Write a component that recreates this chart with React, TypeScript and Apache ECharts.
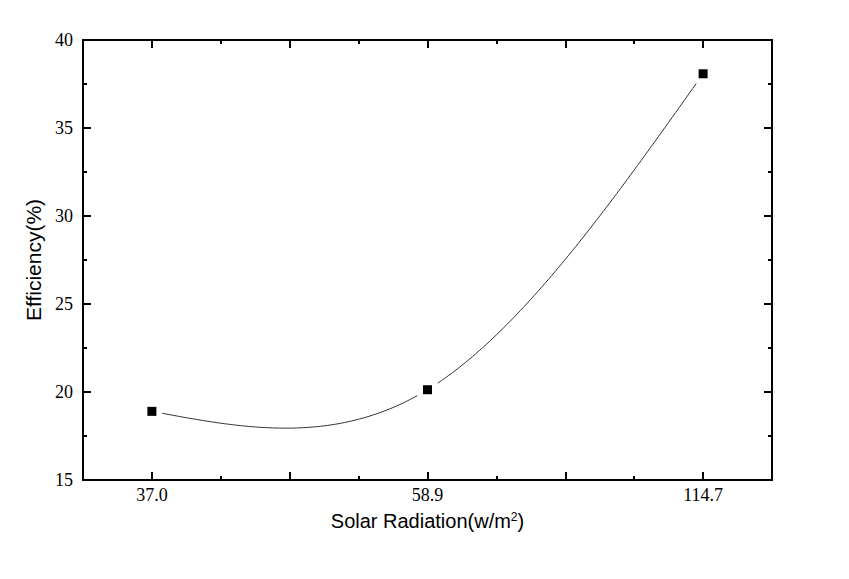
import React, { useEffect, useRef } from "react";
import * as echarts from "echarts";

const xLabels = ["37.0", "58.9", "114.7"];
const efficiency = [18.9, 20.13, 38.08];
const yTicks = { min: 15, max: 40, step: 5 };
const xMajorTicks = [0, 0.5, 1, 1.5, 2];
const xMinorTicks = [0.25, 0.75, 1.25, 1.75];
const xLabelPositions = [0, 1, 2];

// natural cubic spline second derivatives (x = category index)
function splineM(xs: number[], ys: number[]): number[] {
  const n = xs.length;
  const M = new Array(n).fill(0);
  if (n < 3) return M;
  const a: number[] = [], b: number[] = [], c: number[] = [], d: number[] = [];
  for (let i = 1; i < n - 1; i++) {
    const h0 = xs[i] - xs[i - 1];
    const h1 = xs[i + 1] - xs[i];
    a.push(h0);
    b.push(2 * (h0 + h1));
    c.push(h1);
    d.push(6 * ((ys[i + 1] - ys[i]) / h1 - (ys[i] - ys[i - 1]) / h0));
  }
  const m = b.length;
  for (let i = 1; i < m; i++) {
    const w = a[i] / b[i - 1];
    b[i] -= w * c[i - 1];
    d[i] -= w * d[i - 1];
  }
  const sol = new Array(m).fill(0);
  sol[m - 1] = d[m - 1] / b[m - 1];
  for (let i = m - 2; i >= 0; i--) sol[i] = (d[i] - c[i] * sol[i + 1]) / b[i];
  for (let i = 0; i < m; i++) M[i + 1] = sol[i];
  return M;
}

export default function App() {
  const ref = useRef<HTMLDivElement>(null);
  useEffect(() => {
    if (!ref.current) return;
    const chart = echarts.init(ref.current, null, { renderer: "svg" });
    const xs = efficiency.map((_, i) => i);
    const M = splineM(xs, efficiency);
    const serif = "Liberation Serif";
    const sans = "Liberation Sans";
    const axisLine = { show: true, onZero: false, lineStyle: { color: "#000", width: 2 } };
    const baseX = {
      type: "value" as const,
      min: -0.25,
      max: 2.25,
      splitLine: { show: false },
      axisLine,
    };
    const majorTick = (vals: number[], len: number) => ({
      show: true,
      inside: true,
      length: len,
      customValues: vals,
      lineStyle: { color: "#000", width: 2 },
    });
    const baseY = {
      type: "value" as const,
      min: yTicks.min,
      max: yTicks.max,
      interval: yTicks.step,
      splitLine: { show: false },
      axisLine,
      axisTick: { show: true, inside: true, length: 8, lineStyle: { color: "#000", width: 2 } },
      minorTick: { show: true, splitNumber: 2, length: 4, lineStyle: { color: "#000", width: 2 } },
      minorSplitLine: { show: false },
    };
    chart.setOption({
      animation: false,
      backgroundColor: "#fff",
      grid: { left: 83, right: 77, top: 40, bottom: 99, containLabel: false },
      xAxis: [
        {
          ...baseX,
          position: "bottom",
          axisTick: majorTick(xMajorTicks, 8),
          axisLabel: {
            customValues: xLabelPositions,
            formatter: (v: number) => xLabels[Math.round(v)] ?? "",
            fontFamily: serif,
            fontSize: 18,
            color: "#000",
            margin: 6,
          },
          name: "Solar Radiation(w/m{sup|2})",
          nameLocation: "middle",
          nameGap: 31,
          nameTextStyle: {
            fontFamily: sans,
            fontSize: 20,
            color: "#000",
            rich: {
              sup: { fontFamily: sans, fontSize: 12, color: "#000", verticalAlign: "top", padding: [0, 0, 8, 0] },
            },
          },
        },
        {
          ...baseX,
          position: "bottom",
          axisTick: majorTick(xMinorTicks, 4),
          axisLabel: { show: false },
        },
        {
          ...baseX,
          position: "top",
          axisTick: majorTick(xMajorTicks, 8),
          axisLabel: { show: false },
        },
        {
          ...baseX,
          position: "top",
          axisTick: majorTick(xMinorTicks, 4),
          axisLabel: { show: false },
        },
      ],
      yAxis: [
        {
          ...baseY,
          position: "left",
          axisLabel: { fontFamily: serif, fontSize: 18, color: "#000", margin: 10 },
          name: "Efficiency(%)",
          nameLocation: "middle",
          nameGap: 38,
          nameTextStyle: { fontFamily: sans, fontSize: 21, color: "#000" },
        },
        {
          ...baseY,
          position: "right",
          axisLabel: { show: false },
        },
      ],
      series: [
        {
          type: "custom",
          xAxisIndex: 0,
          yAxisIndex: 0,
          data: efficiency.map((v, i) => [i, v]),
          renderItem: (params: any, api: any) => {
            const i = params.dataIndex;
            if (i >= efficiency.length - 1) return null;
            const x0 = xs[i], x1 = xs[i + 1];
            const y0 = efficiency[i], y1 = efficiency[i + 1];
            const h = x1 - x0;
            const p0 = api.coord([x0, y0]);
            const p1 = api.coord([x1, y1]);
            const pts: number[][] = [];
            const steps = 80;
            for (let k = 0; k <= steps; k++) {
              const x = x0 + (h * k) / steps;
              const A = (x1 - x) / h;
              const B = (x - x0) / h;
              const y =
                A * y0 + B * y1 + ((A * A * A - A) * M[i] + (B * B * B - B) * M[i + 1]) * (h * h) / 6;
              const p = api.coord([x, y]);
              const d0 = Math.hypot(p[0] - p0[0], p[1] - p0[1]);
              const d1 = Math.hypot(p[0] - p1[0], p[1] - p1[1]);
              if (d0 < 10 || d1 < 10) continue;
              pts.push(p);
            }
            return {
              type: "polyline",
              shape: { points: pts },
              style: { stroke: "#333", lineWidth: 1, fill: "none" },
            };
          },
          z: 2,
        },
        {
          type: "scatter",
          xAxisIndex: 0,
          yAxisIndex: 0,
          data: efficiency.map((v, i) => [i, v]),
          symbol: "rect",
          symbolSize: 9,
          itemStyle: { color: "#000", opacity: 1 },
          z: 3,
        },
      ],
    });
    return () => chart.dispose();
  }, []);
  return (
    <div
      ref={ref}
      style={{ position: "absolute", left: 0, top: 0, width: 849, height: 579, background: "#fff" }}
    />
  );
}
